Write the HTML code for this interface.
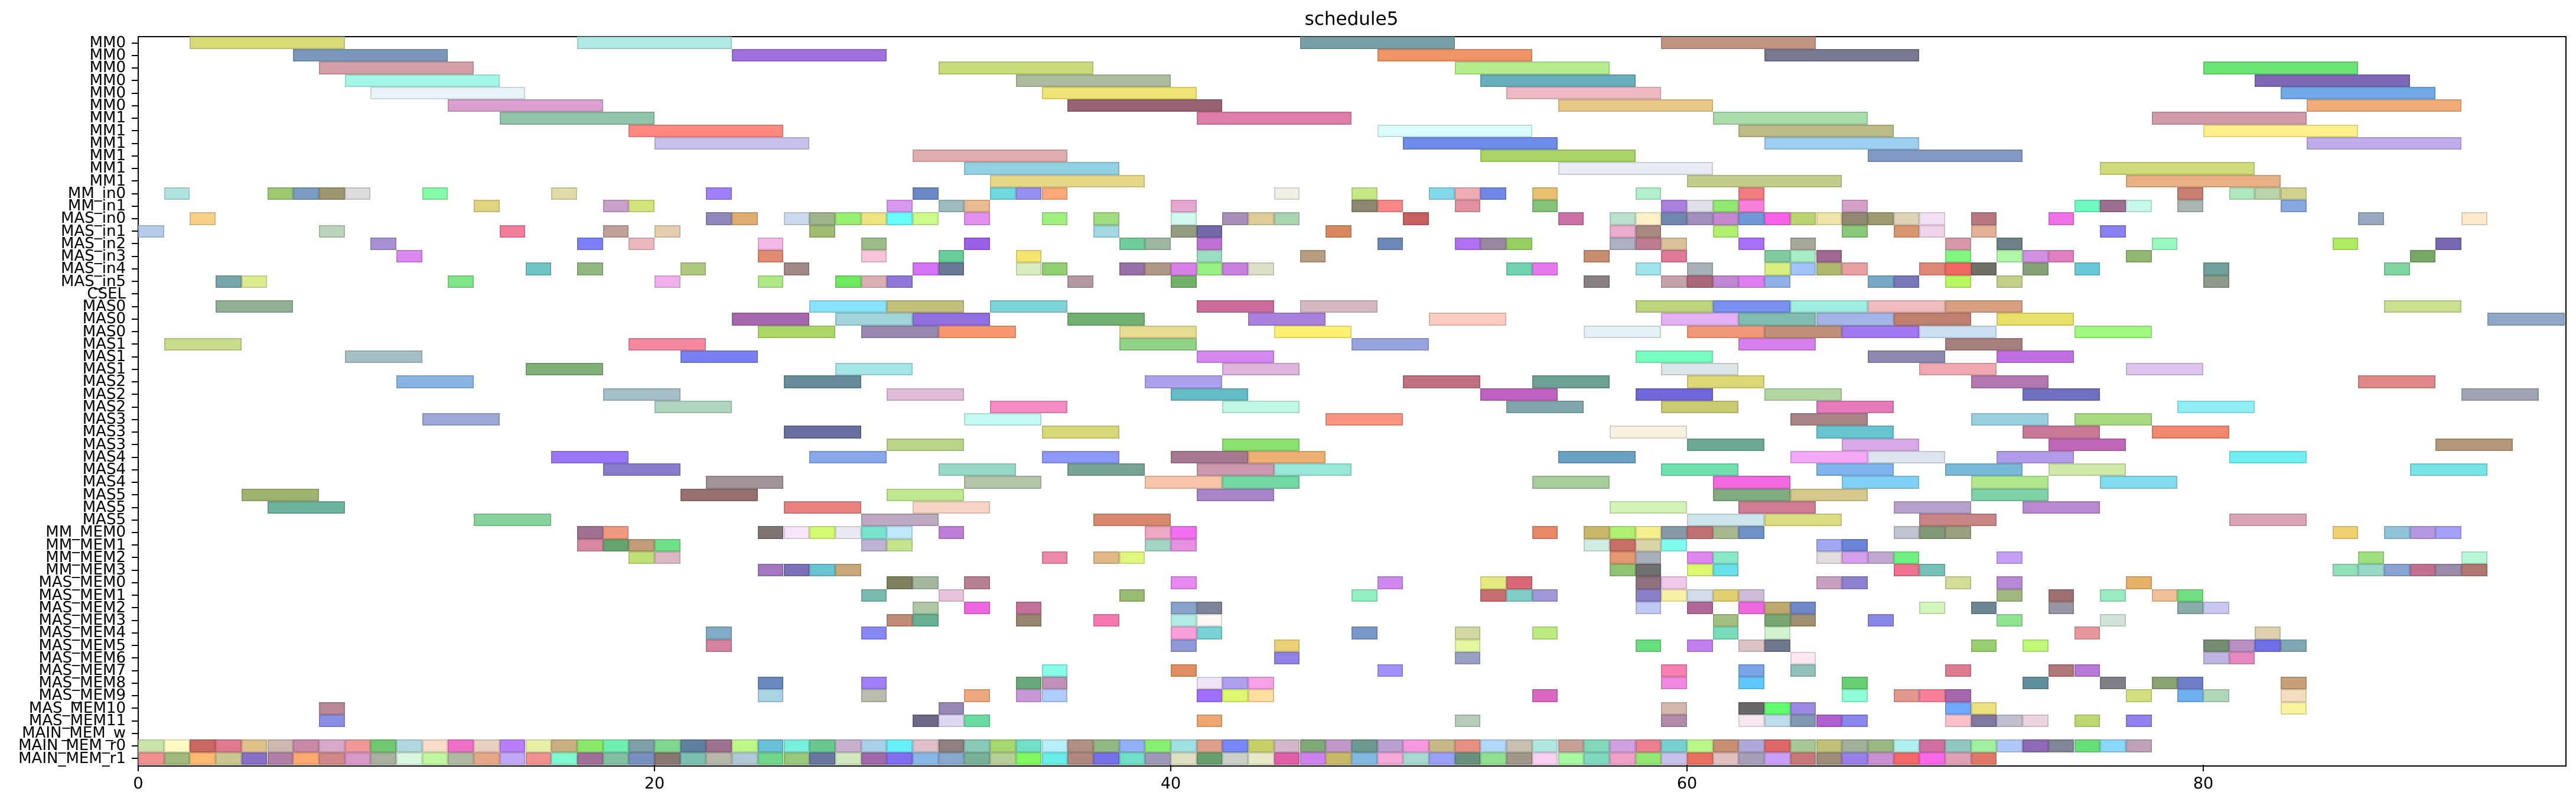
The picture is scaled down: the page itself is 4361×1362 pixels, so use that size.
<!DOCTYPE html>
<html><head><meta charset="utf-8">
<style>
html,body{margin:0;padding:0;background:#fff;}
body{width:4361px;height:1362px;position:relative;overflow:hidden;font-family:"DejaVu Sans","Liberation Sans",sans-serif;}
#frame{position:absolute;left:233px;top:61px;width:4108px;height:1232px;border:2px solid #000;box-sizing:content-box;}
.lab{position:absolute;left:0;width:213px;text-align:right;font-size:26px;height:21.24px;line-height:21.24px;color:#000;white-space:nowrap;}
.b{position:absolute;box-sizing:border-box;box-shadow:inset 0 0 0 2px rgba(0,0,0,0.13);}
.t{position:absolute;background:#000;}
.xl{position:absolute;top:1310px;font-size:27px;width:80px;margin-left:-40px;text-align:center;}
#title{position:absolute;left:0;width:4576px;top:14px;text-align:center;font-size:31px;}
</style></head><body>
<div id="title">schedule5</div>
<div id="labels">
<div class="lab" style="top:62px">MM0</div>
<div class="lab" style="top:83.24px">MM0</div>
<div class="lab" style="top:104.48px">MM0</div>
<div class="lab" style="top:125.72px">MM0</div>
<div class="lab" style="top:146.96px">MM0</div>
<div class="lab" style="top:168.2px">MM0</div>
<div class="lab" style="top:189.44px">MM1</div>
<div class="lab" style="top:210.68px">MM1</div>
<div class="lab" style="top:231.92px">MM1</div>
<div class="lab" style="top:253.16px">MM1</div>
<div class="lab" style="top:274.4px">MM1</div>
<div class="lab" style="top:295.64px">MM1</div>
<div class="lab" style="top:316.88px">MM_in0</div>
<div class="lab" style="top:338.12px">MM_in1</div>
<div class="lab" style="top:359.36px">MAS_in0</div>
<div class="lab" style="top:380.6px">MAS_in1</div>
<div class="lab" style="top:401.84px">MAS_in2</div>
<div class="lab" style="top:423.08px">MAS_in3</div>
<div class="lab" style="top:444.32px">MAS_in4</div>
<div class="lab" style="top:465.56px">MAS_in5</div>
<div class="lab" style="top:486.8px">CSEL</div>
<div class="lab" style="top:508.04px">MAS0</div>
<div class="lab" style="top:529.28px">MAS0</div>
<div class="lab" style="top:550.52px">MAS0</div>
<div class="lab" style="top:571.76px">MAS1</div>
<div class="lab" style="top:593px">MAS1</div>
<div class="lab" style="top:614.24px">MAS1</div>
<div class="lab" style="top:635.48px">MAS2</div>
<div class="lab" style="top:656.72px">MAS2</div>
<div class="lab" style="top:677.96px">MAS2</div>
<div class="lab" style="top:699.2px">MAS3</div>
<div class="lab" style="top:720.44px">MAS3</div>
<div class="lab" style="top:741.68px">MAS3</div>
<div class="lab" style="top:762.92px">MAS4</div>
<div class="lab" style="top:784.16px">MAS4</div>
<div class="lab" style="top:805.4px">MAS4</div>
<div class="lab" style="top:826.64px">MAS5</div>
<div class="lab" style="top:847.88px">MAS5</div>
<div class="lab" style="top:869.12px">MAS5</div>
<div class="lab" style="top:890.36px">MM_MEM0</div>
<div class="lab" style="top:911.6px">MM_MEM1</div>
<div class="lab" style="top:932.84px">MM_MEM2</div>
<div class="lab" style="top:954.08px">MM_MEM3</div>
<div class="lab" style="top:975.32px">MAS_MEM0</div>
<div class="lab" style="top:996.56px">MAS_MEM1</div>
<div class="lab" style="top:1017.8px">MAS_MEM2</div>
<div class="lab" style="top:1039.04px">MAS_MEM3</div>
<div class="lab" style="top:1060.28px">MAS_MEM4</div>
<div class="lab" style="top:1081.52px">MAS_MEM5</div>
<div class="lab" style="top:1102.76px">MAS_MEM6</div>
<div class="lab" style="top:1124px">MAS_MEM7</div>
<div class="lab" style="top:1145.24px">MAS_MEM8</div>
<div class="lab" style="top:1166.48px">MAS_MEM9</div>
<div class="lab" style="top:1187.72px">MAS_MEM10</div>
<div class="lab" style="top:1208.96px">MAS_MEM11</div>
<div class="lab" style="top:1230.2px">MAIN_MEM_w</div>
<div class="lab" style="top:1251.44px">MAIN_MEM_r0</div>
<div class="lab" style="top:1272.68px">MAIN_MEM_r1</div>
</div>
<div id="frame"></div>
<div class="xl" style="left:234px">0</div>
<div class="xl" style="left:1108px">20</div>
<div class="xl" style="left:1982px">40</div>
<div class="xl" style="left:2856px">60</div>
<div class="xl" style="left:3730px">80</div>
<div id="bars"></div>
<script>
var R=[
"2-8:d8da78 17-23:b0eae6 45-51:78a0a8 59-65:c09480",
"6-12:7b98bc 23-29:a070e0 48-54:f09468 63-69:787890",
"7-13:d4a0a8 31-37:c8dc7c 51-57:b4ee8c 80-86:6ae474",
"8-14:a4f8e8 34-40:acbc9c 52-58:68aebc 82-88:7c68b4",
"9-15:e8f4fa 35-41:f0e474 53-59:eebac4 83-89:70a8e8",
"12-18:daa0d0 36-42:986474 55-61:eac888 84-90:f0ac78",
"14-20:90c4a8 41-47:e07ca8 61-67:a8dca8 78-84:d09ca8",
"19-25:ff8880 48-54:dcfcfc 62-68:bcbc88 80-86:fff08c",
"20-26:c8c0ec 49-55:6c8ce8 63-69:9cd0f0 84-90:c0acea",
"30-36:e0acb0 52-58:a8d468 67-73:8498c4",
"32-38:94d0e4 55-61:e8eaf4 76-82:d0dc7c",
"33-39:e6d888 60-66:c4cc8c 77-83:e8b084",
"1:b0e4e0 5:9cc870 6:7a9cc0 7:a09670 8:dcdcdc 11:84fca8 16:e0dca8 22:a080f8 30:6c88c4 33:70d8e0 34:9890f0 35:ffa878 44:f2f0e4 47:c4e888 50:80d8e8 51:f0acb4 52:7088e8 54:e8c070 58:b0f0cc 62:f07c80 79:c88070 81:b0e8c0 82:b8d4a8 83:d0d490",
"13:e0d480 18:c8a0cc 19:d4e478 29:d898f0 31:9cbcc0 32:e6bc90 40:e4a8d0 47:8c8870 48:f88888 51:e090a0 54:84c478 59:a880e0 60:e0e0e8 61:90e870 62:f880d8 66:d4a0c8 75:70f8c0 76:9c7090 77:c8f8ec 79:aab4b0 83:88a8e0",
"2:f8d088 22:9088bc 23:e0ac70 25:ccdaf0 26:9cb488 27:98f070 28:eee480 29:68fcfc 30:ccfc88 32:e490f0 35:a0f080 37:a0dc80 40:d0f8ec 42:a890b8 43:e0cc98 44:a8d4b0 49:c86060 55:cc70a8 57:b8e0cc 58:fff0c8 59:7088b0 60:a090c0 61:c488d0 62:7098d8 63:f860e8 64:bcd470 65:f0e4a8 66:908870 67:9c9c70 68:e0d4b8 69:f4e0f4 71:b87880 74:f070e8 86:98a8c0 90:fce8cc",
"0:b4cce8 7:bcd4bc 14:f47c9c 18:c0a098 20:e4ccb0 26:a0bc70 37:a0d8e4 40:949c80 41:7068a8 46:d88860 57:ecacd0 58:a88880 61:b0f070 66:88c878 68:d89870 69:f0d4ec 71:e4b098 76:8880f0",
"9:a890d4 17:7c80f8 19:ecb8c0 24:f4b8e8 28:9cbc88 32:9c60e8 38:70cc98 39:9cb8a0 41:c070d0 48:6c88b8 51:b070f0 52:9888a0 53:98d060 57:acb0c0 58:c07c90 59:d8c098 62:a870f8 64:a8a898 70:d898a8 72:6c8088 78:98f8c0 85:b0ec60 89:7868b4",
"10:dc88f0 24:e08c70 28:f8c4dc 31:68cc98 34:f4e470 41:9cdcc0 45:b89c80 56:c88c70 59:e07898 63:80cca0 64:a8ecc8 65:a06890 70:80f880 72:b0f8a8 73:d090e0 74:e080c0 77:90b870 88:78a868",
"15:70c4c4 17:90b880 21:b0c880 25:a08888 30:d870f8 31:6c7898 34:d8ecc0 35:90d070 38:9870a8 39:b09888 40:d880e8 41:98f080 42:c880e0 43:dce0c8 53:70d4b0 54:e878f0 58:a0e4ec 60:a8b0b8 63:d8f080 64:a0c4f8 65:b0b870 66:e8a0a0 69:e08878 70:f06860 71:707068 73:88a078 75:68c8d8 80:70a098 87:80d4a0",
"3:78a4ac 4:dcec90 12:80e488 20:f0b0ec 24:b0e888 27:70e860 28:d8b0b4 29:9078d8 36:b498a0 40:70b068 56:888080 59:c4a4a8 60:a86878 61:c088d0 62:e080f0 63:90b0e8 67:78a8c8 68:7878b8 70:b8f860 72:c4d088 80:8c9c88",
"",
"3-6:90b094 26-29:88e4fc 29-32:c4c07c 33-36:7cd4d8 41-44:cc6c9c 45-48:d8b8c0 58-61:bcd47c 61-64:7890f0 64-67:a0eee0 67-70:f0bcc0 70-73:d8a080 87-90:c8e090",
"23-26:a868b0 27-30:a0d4d8 30-33:9070e0 36-39:70b070 43-46:a880e0 50-53:fcccc0 59-62:e4b0f4 62-65:80bcb0 65-68:a4b4e4 68-71:c08070 72-75:e8e068 91-94:90a8c8",
"24-27:acd868 28-31:9888b0 31-34:f89870 38-41:e8dc90 44-47:fff070 56-59:e4f0f4 60-63:f09878 63-66:c09078 66-69:a078f0 69-72:cce0f4 75-78:a0f880",
"1-4:c8dc8c 19-22:f4889c 38-41:90d488 47-50:98a4e0 62-65:d880f0 70-73:a88080",
"8-11:a4c0c4 21-24:7880f4 41-44:d488f0 58-61:78fcc0 67-70:8c88b0 72-75:c070e0",
"15-18:80b078 27-30:a4e6e8 42-45:dcb4dc 59-62:dce4e8 69-72:f0a8b0 77-80:dcc4ec",
"10-13:88b4e4 25-28:688c9c 39-42:aca0ec 49-52:c07080 54-57:6ca094 60-63:dcd878 71-74:b478b0 86-89:e08888",
"18-21:a4c0c8 29-32:e0bcd8 40-43:64bcc8 52-55:c060c0 58-61:7068d8 63-66:b0d8a0 73-76:7070c0 90-93:a0a4b4",
"20-23:b0d4c0 33-36:f48cc4 42-45:c0f8e4 53-56:80a8ac 59-62:c8cc70 65-68:e47cbc 79-82:90f0f8",
"11-14:9ca8d8 32-35:c4faf4 46-49:f89480 64-67:a88488 71-74:98d0e0 75-78:a8d880",
"25-28:6870a0 35-38:d8d878 57-60:f8f0e0 65-68:68c4d0 73-76:c87898 78-81:f08870",
"29-32:bcd488 42-45:8ce070 60-63:6caa94 66-69:d8a8e8 74-77:c068b8 89-92:b49878",
"16-19:9878f8 26-29:88a8ec 35-38:8c98f8 40-43:a87890 43-46:ecb074 55-58:6aa0c4 64-67:f4a8f8 67-70:dce4f0 72-75:b09ce8 81-84:70f0f4",
"18-21:8a7ccc 31-34:98d8c8 36-39:78a498 41-44:cc98b0 44-47:98e8d8 59-62:70e0b0 65-68:80b4ec 70-73:78b8d8 74-77:d0e8a8 88-91:78e4e8",
"22-25:a09498 32-35:b4c4a8 39-42:f8c4a8 42-45:70d8a0 54-57:a8cc9c 61-64:f468e0 66-69:80d0f8 71-74:b0e890 76-79:80dcf0",
"4-7:a0b470 21-24:987070 29-32:c0e890 41-44:a884c8 61-64:80ac80 64-67:d4c88c 71-74:80d0a8",
"5-8:6cb4a0 25-28:e88080 30-33:f8d4c4 57-60:d0f4b8 62-65:d07c94 68-71:b8a0cc 73-76:b888d0",
"13-16:88d49c 28-31:bca8c0 37-40:d8886c 60-63:cce4ec 63-66:dcdc80 69-72:c88484 81-84:dca4b8",
"17:a07090 18:f09880 24:807474 25:f8e4f8 26:d4f870 27:e8e8f0 28:78e4d0 29:c0e8fc 31:bc80d8 39:eca8c4 40:f070f0 54:e88868 56:c8b868 57:b0f070 58:f4f090 59:8898a4 60:c07070 61:a8b890 62:7090c8 68:c0c4d0 69:809878 70:98a080 85:f0d070 87:90c4d8 88:b498e0 89:a4a0f8",
"17:d888a0 18:68a470 19:c09c78 20:70e088 28:c0b4d4 29:c4e490 39:a4d4c4 40:e890e0 56:d0ece4 57:c87068 58:d8d4a8 59:80fcf0 65:a0a8f4 66:6c84d8",
"19:c0e078 20:dcb8c4 35:ec88a8 37:e0b888 38:e0f880 57:e49870 58:aab0bc 60:e088f0 61:88e8c8 65:e0dce0 66:d4a0ec 67:c0a8d0 68:70f080 72:c4a0f4 86:a0e080 90:b8f8d8",
"24:a478c0 25:7c70b8 26:68c4d0 27:c8a878 57:90c470 58:707070 60:dcf870 61:68e0e8 68:f07090 69:78c0b8 85:90e0b8 86:98d8c8 87:88a4d0 88:c07090 89:9c8cac 90:b07870",
"29:808060 30:a4b8a0 32:b88090 40:e888f0 48:d088f0 52:e8e880 53:d86878 58:907080 59:f0c8e8 65:c8a0c0 66:9080d0 70:d4dc98 72:b888d8 77:e8b068",
"28:78bcb0 31:e8c4dc 38:98bc70 47:90f0c0 52:c87070 53:80d0c8 54:a098d8 58:8c80c8 59:f8f0a8 60:d4dcec 61:e0d070 62:ccbcd8 72:a0b880 74:a07070 76:98ecc0 78:f0c098 79:70e080",
"30:acc8a4 32:f068e0 34:c47098 40:88a4cc 41:808498 58:c0c8f4 60:b06898 62:f068e0 63:bca870 64:7088c8 69:d4f8bc 71:6c8894 74:9894a4 79:88aca8 80:c8c8f0",
"29:c08c78 30:68b094 34:988670 37:f878b0 40:b0ece4 41:fff8f4 61:a4c080 63:78a870 64:a09070 67:8888e8 72:90e490 76:d0e4d8",
"22:80acc8 28:8888f4 40:f8a0d8 41:78d4d4 47:7898c8 51:d4d8a4 54:bcec80 61:78dcbc 63:d0f4d0 75:e8989c 82:dcd0b0",
"22:d484a0 40:9098d8 44:ecd078 51:e4f8a0 58:68e080 60:c080f0 62:dcc4c4 63:707890 71:98d070 73:c0f878 80:748c70 81:b890c4 82:7070e8 83:80a8b4",
"44:9080e8 51:98a0c8 64:fce8f4 80:c0b4e4 81:e888c0",
"35:88fce8 40:e09060 48:a090f8 59:f880b0 62:78a4e8 64:90c0b8 70:e07c90 74:b07878 75:b878d8",
"24:6888c0 28:a080f8 34:68a878 35:c090b8 41:f0e4f8 42:b0a0f0 43:f8a0e8 59:f088e0 62:60c8fc 66:68d070 73:60909c 76:808088 78:88a470 79:7080c8 83:c8a078",
"24:a8d4e4 28:bcbcb0 32:f0a880 34:c898d8 35:b0ccfc 41:a070fc 42:dcf870 43:ffdca0 54:d868c0 66:90fcd8 68:e09890 69:f88098 70:a868b0 77:d4e080 79:70b0f0 80:b0d8b8 83:f4dcc0",
"7:b88898 31:9888b8 59:d4b8b0 62:686868 63:60fc70 64:9c88e0 70:70a8fc 71:ece080 83:f8f4a0",
"7:8890e4 30:706888 31:e0d8f0 32:68dca0 41:eca870 51:b4ccb8 59:b08ca8 62:f8e8f4 63:c0dce8 64:8098b0 65:b060d0 66:8888f0 70:f8c0c8 71:8078a0 72:c0c0d0 73:ecd4e0 75:bcd870 77:9080f0",
""
];
var P0="c8e4a8 fff8c0 c86860 e07890 e0c088 d0b8b0 c888a8 d8a8c8 f09898 70c870 b0d8e0 f8dcc8 f070c8 e8d0c0 b880f8 e8f0a8 c8b080 88e868 70f0b0 80a0a8 80d890 6080a0 a07090 c0f888 68c0d8 78f0e0 68c890 c8b0d0 a8d0e8 68f0f8 e0c0c8 908080 88c8b8 a8d870 70e0c8 b8f0f8 b09080 90b880 90b0f8 88f070 a0e0e0 e0a088 7888f8 c8d068 d0b8c8 80a878 c098c8 6a9a90 b8a0d0 f898e0 c8b888 e89080 b0d8f8 c8c0b0 b0e8e0 c8a098 80d8b8 d0a0e0 e88090 78d0d0 b8f888 c89070 b0a8d8 e06868 a8c898 c0c078 a0b098 98b880 b0f0f0 d070a0 90c8c0 a0f0a0 b0c8f8 9068b8 808898 68e078 88d8f8 c0a0b8".split(" ");
var P1="f09090 a0b878 ffb870 c8c890 8870c8 b080a8 ffa870 d08888 d898c8 a8b0a0 d8f8e0 c0f8a0 b0b8a0 e8a888 c0a8f8 f09090 80f8d0 a07098 80c0a0 7890c0 887870 78c0b0 b8b8a8 b0c8d8 70d888 98c878 6878a0 d0e8c0 a068a8 8070f0 88b8e8 88a8d0 78b098 b8d098 80f860 68f0e8 b08880 7870e8 70e0c8 a098b8 e0e0c0 68a070 c8d0c8 e8e8c8 e060a8 d080f0 c8b868 80b8e0 f8a8d8 a8d8d0 98a0f8 6a9080 90e090 a09888 f8d0f0 a8f8a0 80d8c0 f0a0c8 90e870 c8c0e8 e87060 e0c0c0 a8a0b8 c8a0f8 c87878 9c8c78 9880e8 c890d0 f06868 f868e8 e0a0b8 e07868".split(" ");
var rows=R.map(function(s){return s?s.split(" "):[];});
rows[56]=P0.map(function(c,i){return i+":"+c;});
rows[57]=P1.map(function(c,i){return i+":"+c;});
var U=43.7,X0=234,Y0=62,H=21.24,h="";
rows.forEach(function(toks,r){
  toks.forEach(function(t){
    var p=t.split(":"),c=p[1],se=p[0].split("-");
    var s=+se[0],e=se.length>1?+se[1]:s+1;
    var l=X0+s*U,w=(e-s)*U;
    if(l+w>4342)w=4342-l;
    h+='<div class="b" style="left:'+l.toFixed(1)+'px;top:'+(Y0+r*H).toFixed(2)+'px;width:'+w.toFixed(1)+'px;height:'+H+'px;background:#'+c+'"></div>';
  });
});
for(var r=0;r<58;r++){h+='<div class="t" style="left:223px;top:'+(Y0+(r+0.5)*H-1).toFixed(2)+'px;width:11px;height:2px"></div>';}
[0,20,40,60,80].forEach(function(v){h+='<div class="t" style="left:'+(X0+v*U-1)+'px;top:1294px;width:2px;height:11px"></div>';});
document.getElementById("bars").innerHTML=h;
</script>
</body></html>
